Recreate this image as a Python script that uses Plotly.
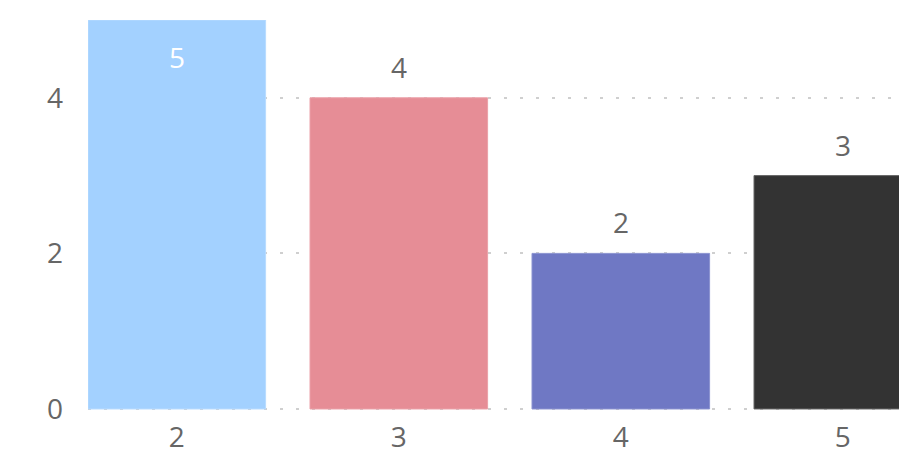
import plotly.graph_objects as go

categories = [2, 3, 4, 5]
values = [5, 4, 2, 3]
colors = ["#A3D1FF", "#E68D96", "#6F78C4", "#333333"]
edge_colors = ["#B8DBFF", "#EBA0A8", "#8A92D0", "#666666"]
label_inside = [True, False, False, False]
y_ticks = [0, 2, 4]

FONT = "Open Sans"
GREY = "#666666"

fig = go.Figure()
fig.add_trace(go.Bar(
    x=categories, y=values,
    marker=dict(color=colors, line=dict(color=edge_colors, width=1)),
    width=0.8, hoverinfo="skip",
))

for c, v, inside in zip(categories, values, label_inside):
    fig.add_annotation(
        x=c, y=v, text=str(v), showarrow=False,
        yanchor="middle", yshift=-37 if inside else 31,
        font=dict(family=FONT, size=28, color="#FFFFFF" if inside else GREY),
    )

fig.update_layout(
    width=899, height=457,
    margin=dict(l=88, r=0, t=20, b=46),
    paper_bgcolor="white", plot_bgcolor="white",
    showlegend=False,
    font=dict(family=FONT, size=28, color=GREY),
)
fig.update_xaxes(
    type="linear", range=[1.6, 1.6 + 811 / 222],
    tickvals=categories, ticktext=[str(c) for c in categories],
    showgrid=False, zeroline=False, showline=False, ticks="",
    ticklabelstandoff=7,
    tickfont=dict(family=FONT, size=28, color=GREY),
)
fig.update_yaxes(
    range=[-0.026, 5], tickvals=y_ticks,
    showgrid=True, gridcolor="#CFCFCF", gridwidth=2, griddash="3px,13px",
    zeroline=False, showline=False, ticks="",
    ticklabelstandoff=24,
    tickfont=dict(family=FONT, size=28, color=GREY),
)

fig.write_html(
    "out.html",
    config={"displayModeBar": False},
    post_script="document.body.style.margin='0';document.body.style.overflow='hidden';",
)
